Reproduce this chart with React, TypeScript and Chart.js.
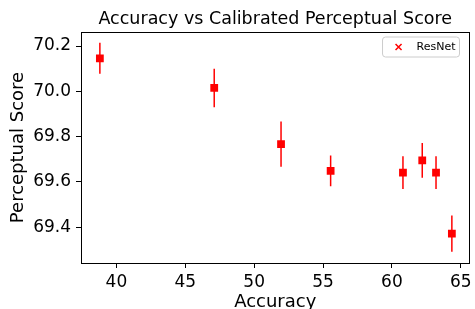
import React, { useEffect, useRef } from "react";
import { Chart, registerables } from "chart.js";

Chart.register(...registerables);

const seriesLabel = "ResNet";
const accuracy = [38.8, 47.1, 51.95, 55.55, 60.8, 62.2, 63.2, 64.35];
const perceptual = [70.146, 70.015, 69.767, 69.649, 69.641, 69.695, 69.641, 69.372];
const perceptualErr = [0.068, 0.085, 0.1, 0.068, 0.072, 0.077, 0.072, 0.08];
const xTicks = [40, 45, 50, 55, 60, 65];
const yTicks = [69.4, 69.6, 69.8, 70.0, 70.2];
const xRange = [37.43, 65.63];
const yRange = [69.242, 70.262];

const FONT = "'DejaVu Sans', sans-serif";

const errorBarPlugin = {
  id: "errorBars",
  beforeDatasetsDraw(chart: any) {
    const { ctx, chartArea, scales } = chart;
    ctx.save();
    ctx.beginPath();
    ctx.rect(chartArea.left, chartArea.top, chartArea.right - chartArea.left, chartArea.bottom - chartArea.top);
    ctx.clip();
    ctx.strokeStyle = "#ff0000";
    ctx.lineWidth = 1.5;
    accuracy.forEach((x, i) => {
      const px = scales.x.getPixelForValue(x);
      const y1 = scales.y.getPixelForValue(perceptual[i] - perceptualErr[i]);
      const y2 = scales.y.getPixelForValue(perceptual[i] + perceptualErr[i]);
      ctx.beginPath();
      ctx.moveTo(px, y1);
      ctx.lineTo(px, y2);
      ctx.stroke();
    });
    ctx.restore();
  },
};

const framePlugin = {
  id: "frame",
  afterDraw(chart: any) {
    const { ctx, chartArea } = chart;
    ctx.save();
    ctx.strokeStyle = "#000";
    ctx.lineWidth = 1;
    ctx.strokeRect(
      Math.round(chartArea.left) + 0.5,
      Math.round(chartArea.top) + 0.5,
      Math.round(chartArea.right - chartArea.left) - 1,
      Math.round(chartArea.bottom - chartArea.top)
    );
    ctx.restore();
  },
};

const legendPlugin = {
  id: "mplLegend",
  afterDraw(chart: any) {
    const { ctx, chartArea } = chart;
    const fs = 11;
    ctx.save();
    ctx.font = `${fs}px ${FONT}`;
    const tw = ctx.measureText(seriesLabel).width;
    const w = 4 + 22 + 8 + tw + 4;
    const h = 20;
    const right = chartArea.right - 10;
    const left = right - w;
    const top = chartArea.top + 5;
    const r = 3;
    ctx.beginPath();
    ctx.moveTo(left + r, top);
    ctx.lineTo(right - r, top);
    ctx.arcTo(right, top, right, top + r, r);
    ctx.lineTo(right, top + h - r);
    ctx.arcTo(right, top + h, right - r, top + h, r);
    ctx.lineTo(left + r, top + h);
    ctx.arcTo(left, top + h, left, top + h - r, r);
    ctx.lineTo(left, top + r);
    ctx.arcTo(left, top, left + r, top, r);
    ctx.closePath();
    ctx.fillStyle = "rgba(255,255,255,0.8)";
    ctx.fill();
    ctx.strokeStyle = "#cccccc";
    ctx.lineWidth = 1;
    ctx.stroke();
    const mx = left + 4 + 12;
    const my = top + h / 2;
    const s = 3;
    ctx.strokeStyle = "#ff0000";
    ctx.lineWidth = 1.5;
    ctx.beginPath();
    ctx.moveTo(mx - s, my - s);
    ctx.lineTo(mx + s, my + s);
    ctx.moveTo(mx + s, my - s);
    ctx.lineTo(mx - s, my + s);
    ctx.stroke();
    ctx.fillStyle = "#000";
    ctx.textBaseline = "middle";
    ctx.textAlign = "left";
    ctx.fillText(seriesLabel, left + 4 + 22 + 8, my);
    ctx.restore();
  },
};

export default function App() {
  const ref = useRef<HTMLCanvasElement | null>(null);
  useEffect(() => {
    document.body.style.margin = "0";
    if (!ref.current) return;
    const chart = new Chart(ref.current, {
      type: "scatter",
      data: {
        datasets: [
          {
            label: seriesLabel,
            data: accuracy.map((x, i) => ({ x, y: perceptual[i] })),
            backgroundColor: "#ff0000",
            borderColor: "#ff0000",
            pointStyle: "rect",
            pointRadius: 5.5,
            pointHoverRadius: 5.5,
            borderWidth: 0,
          },
        ],
      },
      options: {
        animation: false,
        responsive: false,
        layout: { padding: { left: 0, right: 2, top: 0, bottom: 0 } },
        plugins: {
          legend: { display: false },
          tooltip: { enabled: false },
          title: {
            display: true,
            text: "Accuracy vs Calibrated Perceptual Score",
            fullSize: false,
            color: "#000",
            font: { family: FONT, size: 17.5, weight: "normal" },
            padding: { top: 9, bottom: 2 },
          },
        },
        scales: {
          x: {
            type: "linear",
            min: xRange[0],
            max: xRange[1],
            grid: { drawOnChartArea: false, drawTicks: true, tickLength: 5, color: "#000" },
            border: { display: true, color: "#000" },
            ticks: { color: "#000", font: { family: FONT, size: 17 }, padding: 4, maxRotation: 0 },
            title: {
              display: true,
              text: "Accuracy",
              color: "#000",
              font: { family: FONT, size: 18 },
              padding: { top: 0, bottom: -4 },
            },
            afterBuildTicks(scale: any) {
              scale.ticks = xTicks.map((v) => ({ value: v }));
            },
            afterFit(scale: any) {
              scale.height = 46;
              scale.paddingLeft = 0;
              scale.paddingRight = 0;
            },
          },
          y: {
            type: "linear",
            min: yRange[0],
            max: yRange[1],
            grid: { drawOnChartArea: false, drawTicks: true, tickLength: 5, color: "#000" },
            border: { display: true, color: "#000" },
            ticks: {
              color: "#000",
              font: { family: FONT, size: 17 },
              padding: 5,
              callback: (v: any) => Number(v).toFixed(1),
            },
            title: {
              display: true,
              text: "Perceptual Score",
              color: "#000",
              font: { family: FONT, size: 18 },
              padding: { top: 8, bottom: 0 },
            },
            afterBuildTicks(scale: any) {
              scale.ticks = yTicks.map((v) => ({ value: v }));
            },
            afterFit(scale: any) {
              scale.width = 81;
              scale.paddingTop = 0;
              scale.paddingBottom = 0;
            },
          },
        },
      },
      plugins: [errorBarPlugin, framePlugin, legendPlugin],
    });
    return () => chart.destroy();
  }, []);
  return (
    <div style={{ width: 475, height: 309 }}>
      <canvas ref={ref} width={475} height={309} style={{ display: "block" }} />
    </div>
  );
}
